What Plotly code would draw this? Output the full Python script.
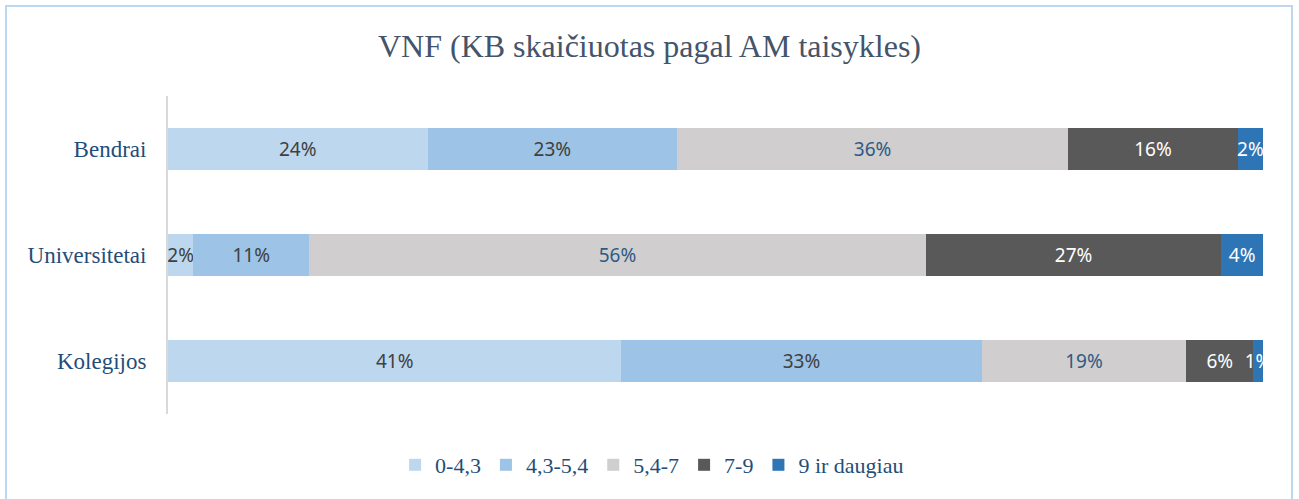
import plotly.graph_objects as go

categories = ["Bendrai", "Universitetai", "Kolegijos"]
series_names = ["0-4,3", "4,3-5,4", "5,4-7", "7-9", "9 ir daugiau"]
v_0_43 = [23.7, 2.3, 41.4]
v_43_54 = [22.8, 10.6, 32.9]
v_54_7 = [35.7, 56.3, 18.7]
v_7_9 = [15.5, 27.0, 6.1]
v_9plus = [2.3, 3.8, 0.9]
series_values = [v_0_43, v_43_54, v_54_7, v_7_9, v_9plus]

colors = ["#BDD7EE", "#9DC3E6", "#D0CECE", "#595959", "#2E75B6"]
text_colors = [
    ["#404040", "#404040", "#404040"],
    ["#404040", "#404040", "#404040"],
    ["#2F5A86", "#2F5A86", "#2F5A86"],
    ["#FFFFFF", "#FFFFFF", "#FFFFFF"],
    ["#FFFFFF", "#FFFFFF", "#FFFFFF"],
]

fig = go.Figure()
for name, vals, col, tcol in zip(series_names, series_values, colors, text_colors):
    fig.add_trace(go.Bar(
        y=categories, x=vals, name=name, orientation="h",
        marker=dict(color=col, line=dict(width=0)),
        text=[f"{round(v)}%" for v in vals],
        textposition="inside", insidetextanchor="middle",
        constraintext="none", textangle=0,
        textfont=dict(family="Noto Sans", size=19, color=tcol),
        cliponaxis=False,
    ))

fig.update_layout(
    barmode="stack",
    bargap=0.6,
    width=1299, height=499,
    paper_bgcolor="white", plot_bgcolor="white",
    margin=dict(l=168, r=36, t=96, b=85),
    title=dict(text="VNF (KB skaičiuotas pagal AM taisykles)", x=0.5, xanchor="center",
               y=1 - 46 / 499, yanchor="middle",
               font=dict(family="Liberation Serif", size=32, color="#44546A")),
    xaxis=dict(range=[0, 100], visible=False, fixedrange=True),
    yaxis=dict(categoryorder="array", categoryarray=categories, autorange="reversed",
               showline=True, linecolor="#D9D9D9", linewidth=2,
               showgrid=False, ticks="outside", ticklen=15, tickcolor="rgba(0,0,0,0)",
               tickfont=dict(family="Liberation Serif", size=23, color="#1F4E79")),
    legend=dict(orientation="h", xref="container", yref="container",
                x=0.502, xanchor="center", y=1 - 465 / 499, yanchor="middle",
                font=dict(family="Liberation Serif", size=22, color="#1F4E79"),
                traceorder="normal", itemwidth=30),
    showlegend=True,
    shapes=[dict(type="rect", xref="paper", yref="paper",
                 x0=(6 - 168) / 1095, x1=(1292 - 168) / 1095,
                 y0=(414 - 510) / 318, y1=(414 - 6) / 318,
                 line=dict(color="#BDD7EE", width=2), fillcolor="rgba(0,0,0,0)", layer="below")],
)

fig.write_html("out.html", config={"displayModeBar": False},
               post_script="document.body.style.margin='0px';")
